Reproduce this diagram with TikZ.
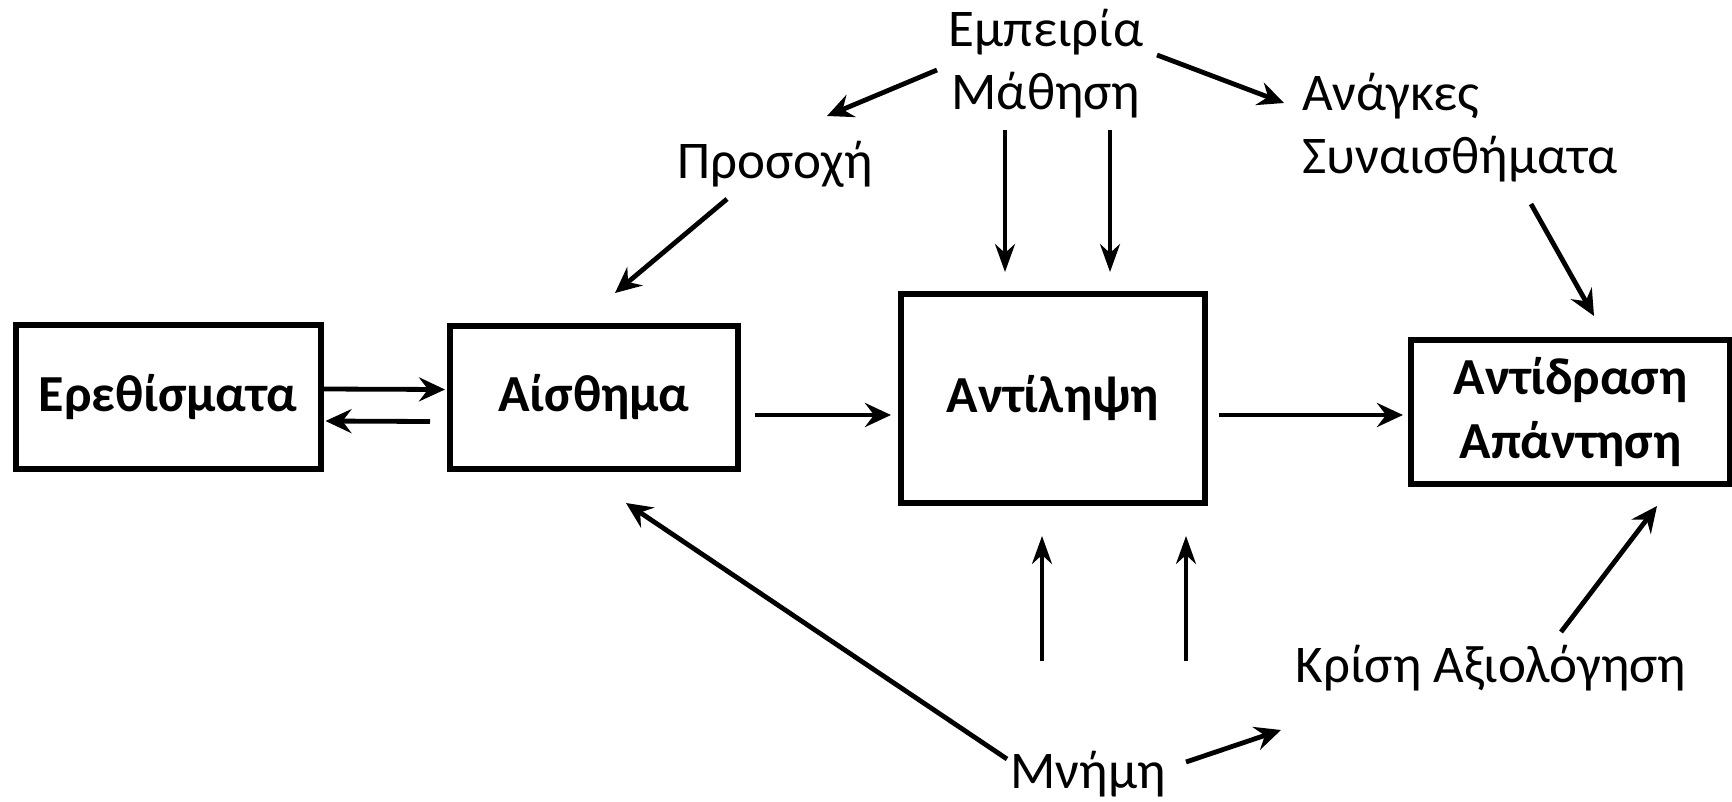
\documentclass[tikz,border=0pt]{standalone}
\usepackage{fontspec}
\setmainfont{Carlito}
\usetikzlibrary{arrows.meta}
\begin{document}
\begin{tikzpicture}[x=1pt,y=-1pt,
  box/.style={draw,line width=6pt,inner sep=0pt,font=\fontsize{52}{64}\selectfont\bfseries,align=center},
  lbl/.style={inner sep=0pt,font=\fontsize{53}{63}\selectfont,align=center},
  arr/.style={line width=4.8pt,-{Stealth[length=26pt,width=24pt,inset=9pt]}},
  varr/.style={line width=3.6pt,-{Stealth[length=28pt,width=20pt,inset=9pt]}}]
\useasboundingbox (0,0) rectangle (1732,801);
\node[box,minimum width=305pt,minimum height=144pt] (ereth) at (168,397) {Ερεθίσματα};
\node[box,minimum width=288pt,minimum height=143pt] (aisth) at (594,397.5) {Αίσθημα};
\node[box,minimum width=304pt,minimum height=209pt] (antil) at (1053,398.5) {Αντίληψη};
\node[box,minimum width=319pt,minimum height=144pt] (antid) at (1570.5,412) {Αντίδραση\\Απάντηση};
\node[lbl] (emp) at (1046,64) {Εμπειρία\\Μάθηση};
\node[lbl] (pros) at (775,164) {Προσοχή};
\node[lbl,align=left,anchor=west] (anag) at (1302,128) {Ανάγκες\\Συναισθήματα};
\node[lbl] (kris) at (1491,668) {Κρίση Αξιολόγηση};
\node[lbl] (mnim) at (1088,774) {Μνήμη};
% horizontal arrows
\draw[arr] ([yshift=8pt]ereth.east) -- ([xshift=-2pt,yshift=8pt]aisth.west);
\draw[arr] ([xshift=-17pt,yshift=-24pt]aisth.west) -- ([xshift=2pt,yshift=-24pt]ereth.east);
\draw[arr] ([xshift=14pt,yshift=-17.5pt]aisth.east) -- ([xshift=-7pt,yshift=-16.5pt]antil.west);
\draw[arr] ([xshift=11pt,yshift=-16.5pt]antil.east) -- ([xshift=-5pt,yshift=-3pt]antid.west);
% from Εμπειρία
\coordinate (e1) at (937,70);
\coordinate (e2) at (1157,55);
\coordinate (p1) at (827,116);
\coordinate (a1) at (1284,103);
\draw[arr] (e1) -- (p1);
\draw[arr] (e2) -- (a1);
\coordinate (d1s) at (1005,130);
\coordinate (d2s) at (1110,130);
\draw[varr] (d1s) -- (d1s |- 0,272);
\draw[varr] (d2s) -- (d2s |- 0,272);
% Προσοχή -> Αίσθημα
\coordinate (ps) at (727,199);
\draw[arr] (ps) -- (615,293);
% Συναισθήματα -> Αντίδραση
\coordinate (ss) at (1531,204);
\draw[arr] (ss) -- (1594,316);
% up arrows
\coordinate (u1) at (1042,661);
\coordinate (u2) at (1186,661);
\draw[varr] (u1) -- (u1 |- 0,536);
\draw[varr] (u2) -- (u2 |- 0,536);
% Μνήμη arrows
\coordinate (m1) at (1007,759);
\coordinate (m2) at (1186,762);
\draw[arr] (m1) -- (626,503);
\draw[arr] (m2) -- (1281,730);
% Κρίση -> Αντίδραση
\coordinate (k1) at (1561,632);
\draw[arr] (k1) -- (1657,506);
\end{tikzpicture}
\end{document}
